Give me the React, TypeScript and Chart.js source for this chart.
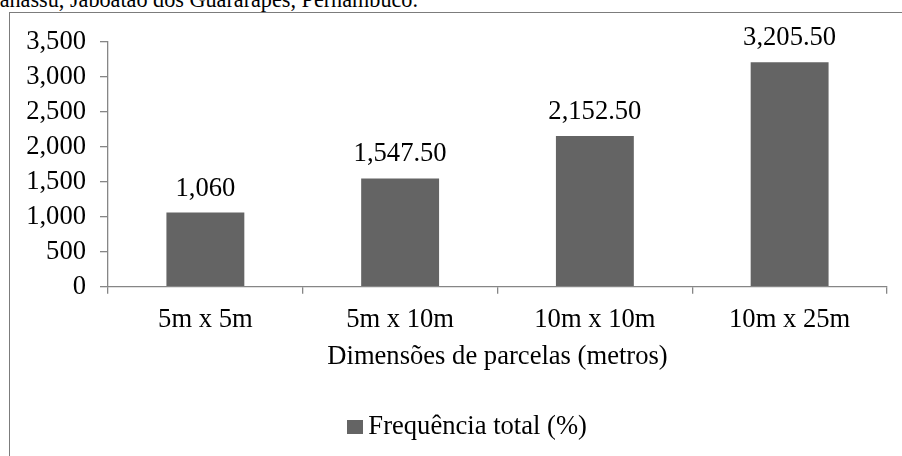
import React, { useEffect, useRef } from "react";
import { Chart, registerables } from "chart.js";

Chart.register(...registerables);

// ---- data ----
const categories = ["5m x 5m", "5m x 10m", "10m x 10m", "10m x 25m"];
const seriesName = "Frequência total (%)";
const frequencia = [1060, 1547.5, 2152.5, 3205.5];
const valueLabels = ["1,060", "1,547.50", "2,152.50", "3,205.50"];
const yMin = 0;
const yMax = 3500;
const yStep = 500;
const xTitle = "Dimensões de parcelas (metros)";
const caption = "Manassu, Jaboatão dos Guararapes, Pernambuco.";

// ---- styles ----
const FONT = "'Liberation Serif', 'Times New Roman', serif";
const FS = 26.6;
const CAPTION_FS = 22.2;
const BAR = "#646464";
const AXIS = "#868686";
const LEGEND_LEFT = 54; // legend is centred on the frame, not on the plot area
const SWATCH_W = 16;
const SWATCH_H = 14;

const valueLabelPlugin = {
  id: "valueLabels",
  afterDatasetsDraw(chart: any) {
    const ctx = chart.ctx;
    const meta = chart.getDatasetMeta(0);
    ctx.save();
    ctx.font = `${FS}px ${FONT}`;
    ctx.fillStyle = "#000";
    ctx.textAlign = "center";
    ctx.textBaseline = "alphabetic";
    meta.data.forEach((bar: any, i: number) => {
      ctx.fillText(valueLabels[i], bar.x, bar.y - 17);
    });
    ctx.restore();
  },
};

const legendShiftPlugin = {
  id: "legendShift",
  beforeDraw(chart: any) {
    if (chart.legend) chart.legend.left = LEGEND_LEFT;
  },
};

export default function App() {
  const canvasRef = useRef<HTMLCanvasElement | null>(null);

  useEffect(() => {
    const canvas = canvasRef.current;
    if (!canvas) return;
    // legend swatch (square marker placed close to its text, as in the source)
    const swatch = document.createElement("canvas");
    swatch.width = SWATCH_W;
    swatch.height = SWATCH_H;
    const sctx = swatch.getContext("2d");
    if (sctx) {
      sctx.fillStyle = BAR;
      sctx.fillRect(0, 0, SWATCH_W, SWATCH_H);
    }
    const font = { family: FONT, size: FS, lineHeight: 1.2 };
    const chart = new Chart(canvas, {
      type: "bar",
      data: {
        labels: categories,
        datasets: [
          {
            label: seriesName,
            data: frequencia,
            backgroundColor: BAR,
            borderWidth: 0,
            barPercentage: 0.4,
            categoryPercentage: 1,
          },
        ],
      },
      options: {
        responsive: false,
        animation: false,
        devicePixelRatio: 1,
        layout: { padding: { left: 0, right: 15, top: 41.7, bottom: 5.7 } },
        plugins: {
          tooltip: { enabled: false },
          title: { display: false },
          legend: {
            display: true,
            position: "bottom",
            labels: {
              font,
              color: "#000",
              usePointStyle: true,
              pointStyle: swatch,
              boxWidth: 1,
              boxHeight: SWATCH_H,
              padding: 10,
            },
          },
        },
        scales: {
          x: {
            type: "category",
            offset: true,
            grid: {
              display: true,
              drawOnChartArea: false,
              drawTicks: true,
              tickLength: 7,
              color: AXIS,
              lineWidth: 1.3,
              offset: true,
            },
            border: { display: true, color: AXIS, width: 1.3 },
            ticks: {
              font,
              color: "#000",
              padding: 10,
              maxRotation: 0,
              autoSkip: false,
            },
            title: {
              display: true,
              text: xTitle,
              font,
              color: "#000",
              padding: { top: 0, bottom: 31 },
            },
            afterFit(scale: any) {
              scale.height = 117;
            },
          },
          y: {
            min: yMin,
            max: yMax,
            grid: {
              display: true,
              drawOnChartArea: false,
              drawTicks: true,
              tickLength: 8,
              color: AXIS,
              lineWidth: 1.3,
            },
            border: { display: true, color: AXIS, width: 1.3 },
            ticks: {
              stepSize: yStep,
              font,
              color: "#000",
              padding: 14,
              callback: (v: any) => Number(v).toLocaleString("en-US"),
            },
            afterFit(scale: any) {
              scale.width = 108;
            },
          },
        },
      },
      plugins: [valueLabelPlugin, legendShiftPlugin],
    });
    return () => chart.destroy();
  }, []);

  return (
    <div
      style={{
        position: "fixed",
        left: 0,
        top: 0,
        width: 902,
        height: 456,
        overflow: "hidden",
        background: "#fff",
      }}
    >
      <div
        style={{
          position: "absolute",
          right: 484,
          top: -15.2,
          whiteSpace: "nowrap",
          fontFamily: FONT,
          fontSize: CAPTION_FS,
          lineHeight: "30px",
          color: "#000",
        }}
      >
        {caption}
      </div>
      <div
        style={{
          position: "absolute",
          left: 9,
          top: 12,
          width: 1000,
          height: 1000,
          borderLeft: "1px solid #7c7c7c",
          borderTop: "1px solid #7c7c7c",
        }}
      />
      <canvas
        ref={canvasRef}
        width={902}
        height={456}
        style={{ position: "absolute", left: 0, top: 0, width: 902, height: 456 }}
      />
    </div>
  );
}
